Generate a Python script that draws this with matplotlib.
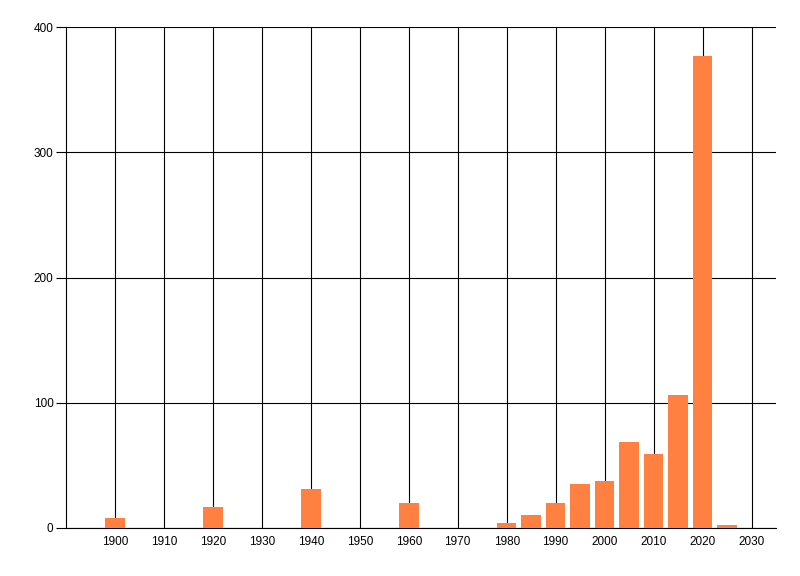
import numpy as np
import matplotlib
matplotlib.use("Agg")
import matplotlib.pyplot as plt

# bar data
years = [1900, 1920, 1940, 1960, 1980, 1985, 1990, 1995, 2000, 2005, 2010, 2015, 2020, 2025]
counts = [8, 17, 31, 20, 4, 10, 20, 35, 37.5, 68.5, 59, 106, 377, 2.5]

x_ticks = list(range(1900, 2031, 10))
y_ticks = [0, 100, 200, 300, 400]

plt.rcParams['font.family'] = ['Liberation Sans', 'DejaVu Sans']

fig = plt.figure(figsize=(8, 5.76), dpi=100)
ax = fig.add_axes([66 / 800, 1 - 528 / 576, 710 / 800, 501 / 576])

ax.bar(years, counts, width=4, color='#FF8040', zorder=3)

ax.set_xlim(1890, 2035)
ax.set_ylim(0, 400)
ax.set_xticks(x_ticks)
ax.set_yticks(y_ticks)
ax.grid(True, color='black', linewidth=0.8, zorder=0)
ax.set_axisbelow(True)

for s in ['top', 'right']:
    ax.spines[s].set_visible(False)
for s in ['left', 'bottom']:
    ax.spines[s].set_linewidth(0.8)
    ax.spines[s].set_color('black')

ax.tick_params(axis='x', length=0, pad=6, labelsize=8.5)
ax.tick_params(axis='y', length=7, width=0.8, pad=2, labelsize=8.5)

fig.savefig('out.png', dpi=100)
